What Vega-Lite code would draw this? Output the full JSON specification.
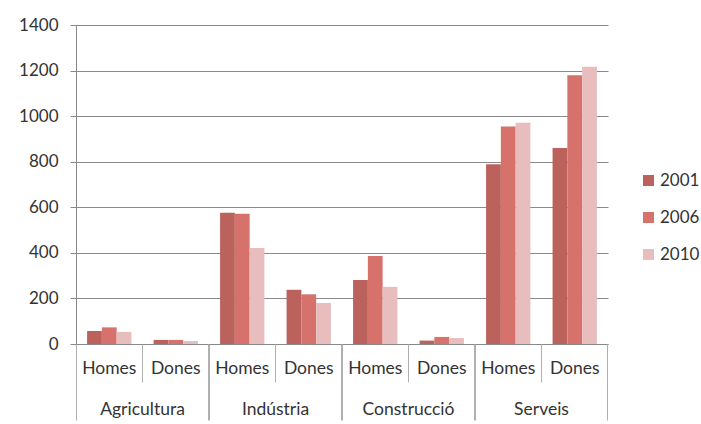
{
  "$schema": "https://vega.github.io/schema/vega-lite/v6.json",
  "background": "white",
  "autosize": {"type": "none"},
  "padding": {"left": 76, "top": 25, "right": 93, "bottom": 80},
  "width": 532,
  "height": 319,
  "config": {"view": {"stroke": null}},
  "data": {
    "values": [
      {"grup": "Agricultura|Homes", "sector": "Agricultura", "sexe": "Homes", "any": "2001", "valor": 57},
      {"grup": "Agricultura|Homes", "sector": "Agricultura", "sexe": "Homes", "any": "2006", "valor": 73},
      {"grup": "Agricultura|Homes", "sector": "Agricultura", "sexe": "Homes", "any": "2010", "valor": 53},
      {"grup": "Agricultura|Dones", "sector": "Agricultura", "sexe": "Dones", "any": "2001", "valor": 18},
      {"grup": "Agricultura|Dones", "sector": "Agricultura", "sexe": "Dones", "any": "2006", "valor": 18},
      {"grup": "Agricultura|Dones", "sector": "Agricultura", "sexe": "Dones", "any": "2010", "valor": 13},
      {"grup": "Indústria|Homes", "sector": "Indústria", "sexe": "Homes", "any": "2001", "valor": 576},
      {"grup": "Indústria|Homes", "sector": "Indústria", "sexe": "Homes", "any": "2006", "valor": 572},
      {"grup": "Indústria|Homes", "sector": "Indústria", "sexe": "Homes", "any": "2010", "valor": 421},
      {"grup": "Indústria|Dones", "sector": "Indústria", "sexe": "Dones", "any": "2001", "valor": 238},
      {"grup": "Indústria|Dones", "sector": "Indústria", "sexe": "Dones", "any": "2006", "valor": 218},
      {"grup": "Indústria|Dones", "sector": "Indústria", "sexe": "Dones", "any": "2010", "valor": 180},
      {"grup": "Construcció|Homes", "sector": "Construcció", "sexe": "Homes", "any": "2001", "valor": 281},
      {"grup": "Construcció|Homes", "sector": "Construcció", "sexe": "Homes", "any": "2006", "valor": 386},
      {"grup": "Construcció|Homes", "sector": "Construcció", "sexe": "Homes", "any": "2010", "valor": 251},
      {"grup": "Construcció|Dones", "sector": "Construcció", "sexe": "Dones", "any": "2001", "valor": 15},
      {"grup": "Construcció|Dones", "sector": "Construcció", "sexe": "Dones", "any": "2006", "valor": 31},
      {"grup": "Construcció|Dones", "sector": "Construcció", "sexe": "Dones", "any": "2010", "valor": 26},
      {"grup": "Serveis|Homes", "sector": "Serveis", "sexe": "Homes", "any": "2001", "valor": 789},
      {"grup": "Serveis|Homes", "sector": "Serveis", "sexe": "Homes", "any": "2006", "valor": 954},
      {"grup": "Serveis|Homes", "sector": "Serveis", "sexe": "Homes", "any": "2010", "valor": 971},
      {"grup": "Serveis|Dones", "sector": "Serveis", "sexe": "Dones", "any": "2001", "valor": 860},
      {"grup": "Serveis|Dones", "sector": "Serveis", "sexe": "Dones", "any": "2006", "valor": 1179},
      {"grup": "Serveis|Dones", "sector": "Serveis", "sexe": "Dones", "any": "2010", "valor": 1217}
    ]
  },
  "layer": [
    {
      "mark": {"type": "bar"},
      "encoding": {
        "x": {
          "field": "grup",
          "type": "nominal",
          "sort": null,
          "scale": {"paddingInner": 0.3333, "paddingOuter": 0.1667},
          "axis": {
            "title": null,
            "orient": "bottom",
            "ticks": false,
            "labelAngle": 0,
            "labelPadding": 15,
            "labelExpr": "split(datum.value, '|')[1]",
            "labelFont": "Lato",
            "labelFontSize": 17.5,
            "labelColor": "#333333",
            "domainColor": "#888888",
            "domainWidth": 1
          }
        },
        "xOffset": {"field": "any", "type": "nominal", "sort": ["2001", "2006", "2010"]},
        "y": {
          "field": "valor",
          "type": "quantitative",
          "scale": {"domain": [0, 1400]},
          "axis": {
            "title": null,
            "values": [0, 200, 400, 600, 800, 1000, 1200, 1400],
            "format": "d",
            "tickSize": 6,
            "tickColor": "#888888",
            "labelPadding": 12,
            "labelFont": "Lato",
            "labelFontSize": 17,
            "labelColor": "#333333",
            "domainColor": "#888888",
            "gridColor": "#8a8a8a",
            "gridWidth": 1
          }
        },
        "color": {
          "field": "any",
          "type": "nominal",
          "scale": {"domain": ["2001", "2006", "2010"], "range": ["#bb625d", "#d6716c", "#e7bebd"]},
          "legend": {
            "title": null,
            "orient": "none",
            "legendX": 564,
            "legendY": 147,
            "padding": 0,
            "symbolType": "square",
            "symbolSize": 121,
            "symbolStrokeWidth": 0,
            "labelFont": "Lato",
            "labelFontSize": 17,
            "labelColor": "#333333",
            "labelOffset": 3,
            "rowPadding": 19
          }
        }
      }
    },
    {
      "mark": {"type": "bar", "opacity": 0},
      "encoding": {
        "x": {
          "field": "grup",
          "type": "nominal",
          "sort": null,
          "axis": {
            "title": null,
            "orient": "bottom",
            "labels": false,
            "domain": false,
            "bandPosition": -0.25,
            "tickColor": "#b0b0b0",
            "tickSize": {"condition": {"test": "indexof(datum.value, '|Homes') >= 0", "value": 76}, "value": 38}
          }
        },
        "y": {"field": "valor", "type": "quantitative"}
      }
    },
    {
      "mark": {"type": "bar", "opacity": 0},
      "encoding": {
        "x": {
          "field": "grup",
          "type": "nominal",
          "sort": null,
          "axis": {
            "title": null,
            "orient": "bottom",
            "domain": false,
            "bandPosition": 1.25,
            "tickColor": "#b0b0b0",
            "tickSize": 76,
            "tickOpacity": {"condition": {"test": "indexof(datum.value, '|Dones') >= 0", "value": 1}, "value": 0},
            "labelAngle": 0,
            "labelPadding": -20,
            "labelOffset": 33.25,
            "labelExpr": "indexof(datum.value, '|Homes') >= 0 ? split(datum.value, '|')[0] : ''",
            "labelFont": "Lato",
            "labelFontSize": 17.5,
            "labelColor": "#333333"
          }
        },
        "y": {"field": "valor", "type": "quantitative"}
      }
    }
  ],
  "resolve": {"axis": {"x": "independent"}}
}
